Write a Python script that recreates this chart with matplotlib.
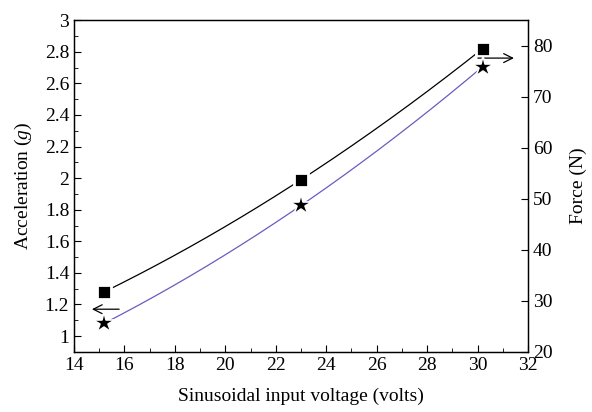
import numpy as np
import matplotlib
matplotlib.use('Agg')
import matplotlib.pyplot as plt
from matplotlib.ticker import MultipleLocator

plt.rcParams['font.family'] = ['Liberation Serif', 'DejaVu Serif']
plt.rcParams['mathtext.fontset'] = 'custom'
plt.rcParams['mathtext.it'] = 'Liberation Serif:italic'

voltage = [15.2, 23.0, 30.2]
acceleration = [1.28, 1.99, 2.82]
force = [25.6, 48.7, 75.9]

fig = plt.figure(figsize=(5.92, 4.12), dpi=100)
ax = fig.add_axes([0.125, 0.146, 0.767, 0.805])
ax2 = ax.twinx()

# fitted curves
xf = np.linspace(voltage[0], voltage[-1], 200)
ca = np.polyfit(voltage, acceleration, 2)
cf = np.polyfit(voltage, force, 2)
ax.plot(xf, np.polyval(ca, xf), color='black', lw=0.9, zorder=1)
ax2.plot(xf, np.polyval(cf, xf), color='#6a5cc0', lw=0.9, zorder=1)

ax.plot(voltage, acceleration, 's', color='black', ms=10, mec='white', mew=2, zorder=3)
ax2.plot(voltage, force, '*', color='black', ms=16, mec='white', mew=1.2, zorder=3)

# arrows pointing to the axes
ax.annotate('', xy=(14.6, 1.17), xytext=(15.9, 1.17),
            arrowprops=dict(arrowstyle='->', color='black', lw=0.9,
                            mutation_scale=16))
ax.annotate('', xy=(31.55, 2.76), xytext=(29.9, 2.76),
            arrowprops=dict(arrowstyle='->', color='black', lw=0.9,
                            mutation_scale=16))

ax.set_xlim(14, 32)
ax.set_ylim(0.9, 3)
ax2.set_ylim(20, 85)

ax.xaxis.set_major_locator(MultipleLocator(2))
ax.xaxis.set_minor_locator(MultipleLocator(1))
ax.yaxis.set_minor_locator(MultipleLocator(0.1))
ax.set_yticks(np.arange(1.0, 3.01, 0.2))
ax.set_yticklabels(['1', '1.2', '1.4', '1.6', '1.8', '2', '2.2', '2.4', '2.6', '2.8', '3'])
ax2.set_yticks(np.arange(20, 81, 10))

ax.tick_params(axis='both', which='both', direction='in', top=False, right=False,
               labelsize=14)
ax.tick_params(which='major', length=5)
ax.tick_params(which='minor', length=3)
ax2.tick_params(axis='y', direction='in', length=5, labelsize=14)

for a in (ax, ax2):
    for s in a.spines.values():
        s.set_linewidth(0.9)

ax.set_xlabel('Sinusoidal input voltage (volts)', fontsize=14, labelpad=10)
ax.set_ylabel('Acceleration ($g$)', fontsize=14, labelpad=8)
ax2.set_ylabel('Force (N)', fontsize=14, labelpad=12)

fig.savefig('out.png', dpi=100)
